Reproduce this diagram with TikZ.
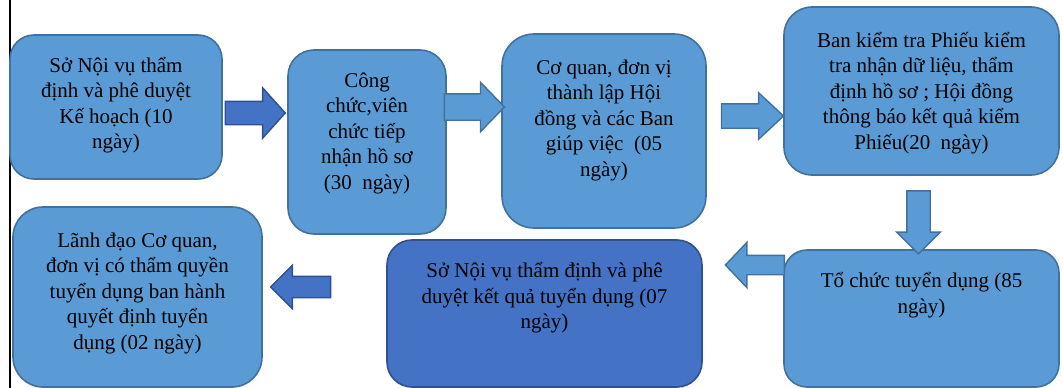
\documentclass[tikz,border=0pt]{standalone}
\usepackage{fontspec}
\setmainfont{Liberation Serif}
\usetikzlibrary{shapes.arrows}
\definecolor{boxblue}{RGB}{91,155,213}
\definecolor{boxedge}{RGB}{65,113,156}
\definecolor{darkblue}{RGB}{68,114,196}
\definecolor{darkedge}{RGB}{47,82,143}

\begin{document}
\begin{tikzpicture}[x=1pt, y=-1pt,
	stage/.style={draw=boxedge, line width=1.6pt, fill=boxblue, rounded corners=#1, inner sep=0pt},
	stage/.default=24pt,
	stagetext/.style={align=center, font=\fontsize{21}{25.5}\selectfont, inner sep=0pt},
	flow/.style={single arrow, draw=boxedge, fill=boxblue, line width=1.4pt, outer sep=0pt}]
	\useasboundingbox (0,0) rectangle (1063,388);
	% page margin line
	\draw[line width=2pt] (10,0) -- (10,388);
	% Boxes
	\node[stage=24pt, minimum width=212, minimum height=144] (b1) at (116,107) {};
	\node[stage=26pt, minimum width=158, minimum height=184] (b2) at (367,142) {};
	\node[stage=32pt, minimum width=204, minimum height=194] (b3) at (604,131) {};
	\node[stage=28pt, minimum width=275, minimum height=168] (b4) at (921.5,91) {};
	\node[stage=23pt, minimum width=275, minimum height=137] (b5) at (921.5,318.5) {};
	\node[stage=25pt, draw=darkedge, fill=darkblue, minimum width=315, minimum height=147] (b6) at (544.5,313.5) {};
	\node[stage=30pt, minimum width=249, minimum height=180] (b7) at (137.5,297) {};
	% Texts
	\node[stagetext] (t1) at (116,105) {Sở Nội vụ thẩm\\định và phê duyệt\\Kế hoạch (10\\ngày)};
	\node[stagetext] (t2) at (367,133) {Công\\chức,viên\\chức tiếp\\nhận hồ sơ\\(30~ ngày)};
	\node[stagetext] (t3) at (604,120) {Cơ quan, đơn vị\\thành lập Hội\\đồng và các Ban\\giúp việc~ (05\\ngày)};
	\node[stagetext] (t4) at (921.5,93) {Ban kiểm tra Phiếu kiểm\\tra nhận dữ liệu, thẩm\\định hồ sơ ; Hội đồng\\thông báo kết quả kiểm\\Phiếu(20~ ngày)};
	\node[stagetext] (t5) at (921.5,295) {Tổ chức tuyển dụng (85\\ngày)};
	\node[stagetext] (t6) at (544.5,298) {Sở Nội vụ thẩm định và phê\\duyệt kết quả tuyển dụng (07\\ngày)};
	\node[stagetext] (t7) at (137.5,293) {Lãnh đạo Cơ quan,\\đơn vị có thẩm quyền\\tuyển dụng ban hành\\quyết định tuyển\\dụng (02 ngày)};
	% Block arrows
	\node[flow, draw=darkedge, fill=darkblue, inner sep=11pt, minimum height=60, single arrow head extend=13.5pt, single arrow tip angle=96] (a1) at (250,113) {};
	\node[flow, inner sep=12.5pt, minimum height=60, single arrow head extend=11.5pt, single arrow tip angle=92] (a2) at (468,107) {};
	\node[flow, inner sep=11.5pt, minimum height=62, single arrow head extend=11pt, single arrow tip angle=86] (a3) at (746,116) {};
	\node[flow, inner sep=11pt, minimum height=63, single arrow head extend=10pt, single arrow tip angle=90, shape border rotate=270] (a4) at (918.5,216.5) {};
	\node[flow, inner sep=9pt, minimum height=59, single arrow head extend=13pt, single arrow tip angle=93, shape border rotate=180] (a5) at (759.5,265) {};
	\node[flow, draw=darkedge, fill=darkblue, inner sep=10pt, minimum height=60, single arrow head extend=11pt, single arrow tip angle=90, shape border rotate=180] (a6) at (306,287) {};
\end{tikzpicture}
\end{document}
